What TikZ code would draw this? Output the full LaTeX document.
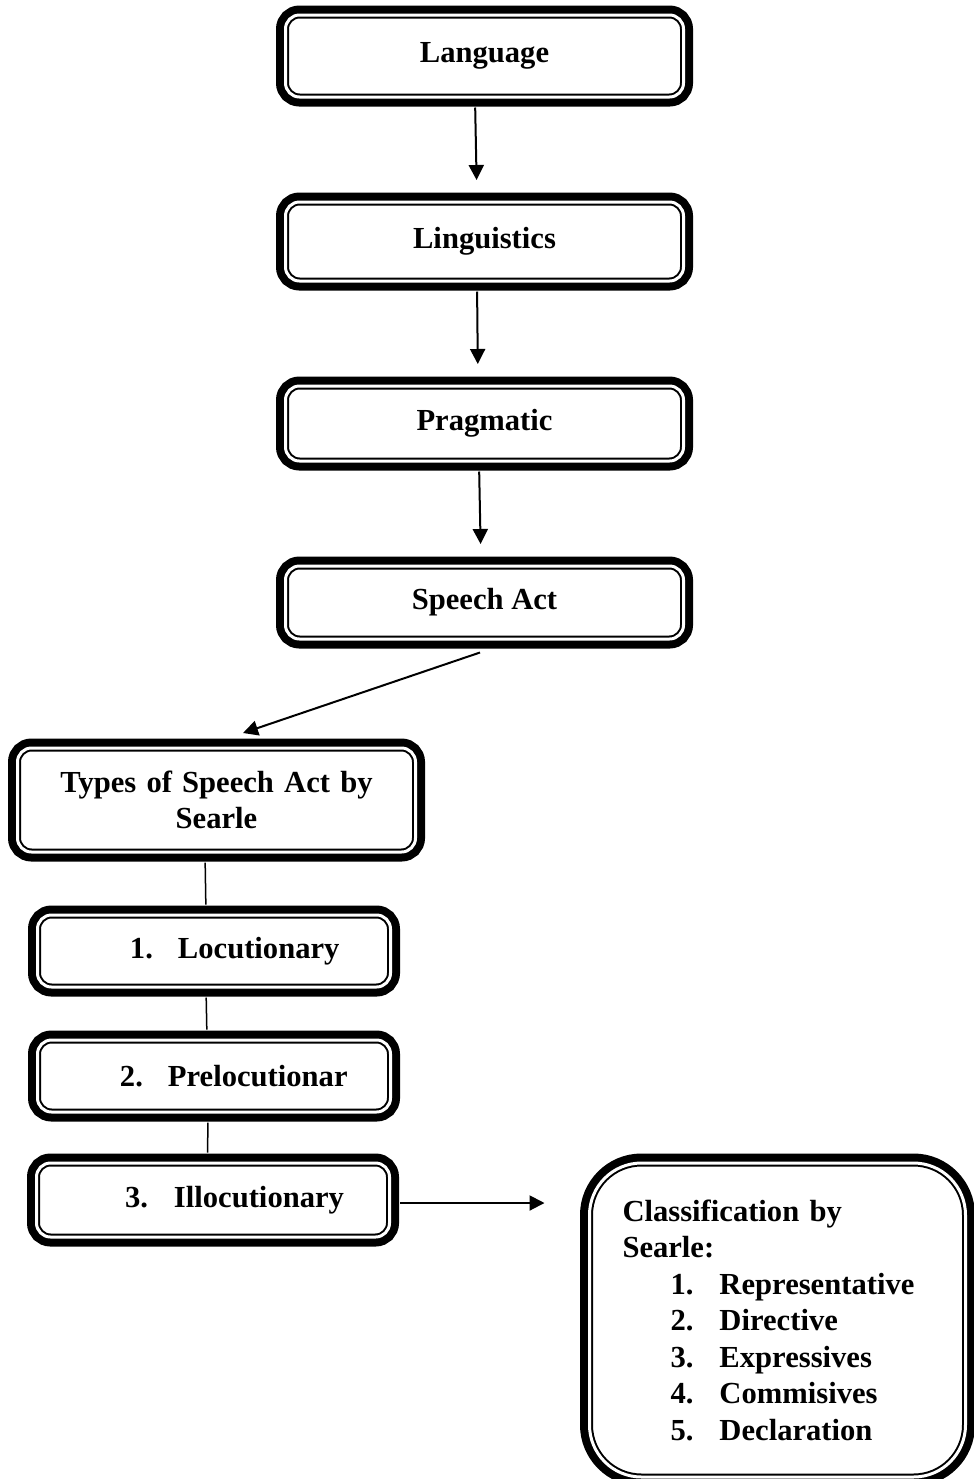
\documentclass[tikz,border=0pt]{standalone}
\usepackage{fontspec}
\setmainfont{Liberation Serif}
\usepackage{tikz}
\usetikzlibrary{positioning, arrows.meta}

\newcommand{\clsitem}[2]{\hspace*{24pt}\makebox[24.5pt][l]{#1}#2}

\begin{document}
\begin{tikzpicture}[
  x=0.5pt, y=-0.5pt,
  every node/.style={font=\fontsize{15.3}{18.25}\selectfont\bfseries},
  box/.style={draw, double, line width=1pt, double distance=1.5pt,
    fill=white, rounded corners=7pt, inner sep=0pt,
    preaction={draw, line width=9.5pt},
    minimum width=199pt, align=center},
  listbox/.style={box, minimum width=0pt, text width=176.5pt, align=left, minimum height=36pt},
  arr/.style={-{Triangle[length=7.5pt,width=7.5pt]}, line width=1pt},
  link/.style={line width=0.75pt, shorten <=4.75pt, shorten >=4.75pt}
]
  \useasboundingbox (0,0) rectangle (974,1479);

  \node[box, minimum height=41pt] (lang) at (484.5,56) {Language};
  \node[box, minimum height=39.5pt, below=51.5pt of lang] (ling) {Linguistics};
  \node[box, minimum height=37.5pt, below=51.5pt of ling] (prag) {Pragmatic};
  \node[box, minimum height=36.5pt, below=51.5pt of prag] (speech) {Speech Act};

  \node[box, minimum height=52pt, text width=190pt] (types) at (216.5,800) {Types of Speech Act by\\Searle};
  \node[listbox, below=30.5pt of types, xshift=-1.25pt] (loc) {\hspace*{46.25pt}\makebox[24pt][l]{1.}Locutionary};
  \node[listbox, below=25.5pt of loc] (prel) {\hspace*{41.25pt}\makebox[24pt][l]{2.}Prelocutionar};
  \node[listbox, minimum height=37pt, below=24.5pt of prel, xshift=-0.5pt] (illoc) {\hspace*{44.25pt}\makebox[24.5pt][l]{3.}Illocutionary};

  \node[box, rounded corners=26pt, minimum width=188pt, minimum height=157pt,
    inner xsep=16.25pt, text width=155pt, align=left,
    right=99pt of illoc.north east, anchor=north west] (class)
    {Classification by\\Searle:\\\clsitem{1.}{Representative}\\\clsitem{2.}{Directive}\\
     \clsitem{3.}{Expressives}\\\clsitem{4.}{Commisives}\\\clsitem{5.}{Declaration}};

  \draw[arr, shorten <=4.75pt, shorten >=10.5pt] ([xshift=-4.75pt]lang.south) -- ([xshift=-3.75pt]ling.north);
  \draw[arr, shorten <=4.75pt, shorten >=10.5pt] ([xshift=-3.75pt]ling.south) -- ([xshift=-3.25pt]prag.north);
  \draw[arr, shorten <=4.75pt, shorten >=10.5pt] ([xshift=-2.75pt]prag.south) -- ([xshift=-1.75pt]speech.north);
  \draw[arr] ([xshift=-2.25pt,yshift=-6.25pt]speech.south) -- ([xshift=13.25pt,yshift=7pt]types.north);

  \draw[link] ([xshift=-5.75pt]types.south) -- ([xshift=-4pt]loc.north);
  \draw[link] ([xshift=-4pt]loc.south) -- ([xshift=-3.5pt]prel.north);
  \draw[link] ([xshift=-3pt]prel.south) -- ([xshift=-2.75pt]illoc.north);
  \draw[arr, shorten <=4.75pt, shorten >=22pt] ([yshift=-1.5pt]illoc.east) -- ([yshift=-1.5pt]illoc.east -| class.west);
\end{tikzpicture}
\end{document}
